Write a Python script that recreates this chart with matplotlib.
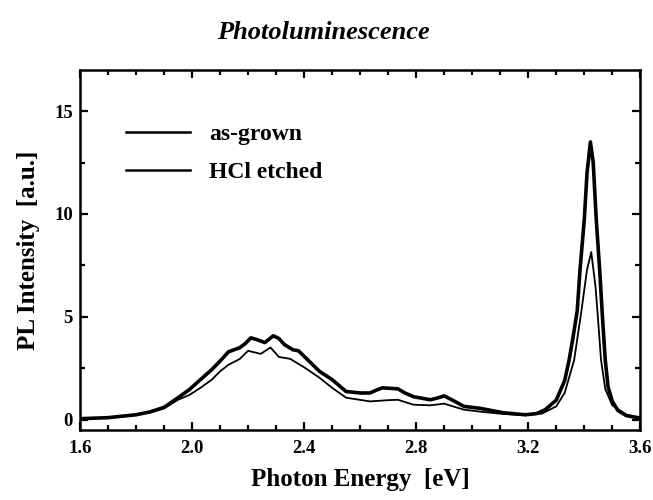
import matplotlib
matplotlib.use("Agg")
import matplotlib.pyplot as plt
from matplotlib.ticker import MultipleLocator

# Data
energy_grown = [1.60, 1.70, 1.80, 1.85, 1.90, 1.95, 1.99, 2.03, 2.07, 2.10, 2.13, 2.17, 2.19,
                2.21, 2.23, 2.26, 2.29, 2.31, 2.33, 2.36, 2.38, 2.41, 2.455, 2.50, 2.55, 2.60,
                2.635, 2.66, 2.68, 2.735, 2.76, 2.79, 2.85, 2.875, 2.90, 2.93, 2.97, 3.03, 3.11,
                3.19, 3.23, 3.26, 3.30, 3.33, 3.346, 3.36, 3.375, 3.385, 3.40, 3.41, 3.422,
                3.432, 3.443, 3.455, 3.465, 3.475, 3.485, 3.50, 3.52, 3.55, 3.60]
pl_grown = [0.05, 0.10, 0.24, 0.38, 0.60, 1.07, 1.46, 1.95, 2.43, 2.85, 3.30, 3.50, 3.70,
            3.98, 3.90, 3.75, 4.08, 3.95, 3.65, 3.40, 3.35, 2.95, 2.35, 1.95, 1.37, 1.30,
            1.30, 1.45, 1.55, 1.50, 1.30, 1.12, 0.97, 1.05, 1.16, 0.95, 0.65, 0.55, 0.34,
            0.24, 0.30, 0.48, 0.95, 1.90, 2.90, 4.00, 5.30, 7.30, 9.70, 12.0, 13.5,
            12.5, 9.70, 7.30, 5.00, 2.90, 1.60, 0.90, 0.45, 0.20, 0.08]

energy_hcl = [1.60, 1.70, 1.80, 1.85, 1.90, 1.95, 1.99, 2.03, 2.07, 2.10, 2.13, 2.17, 2.20,
              2.245, 2.28, 2.31, 2.35, 2.40, 2.455, 2.50, 2.55, 2.635, 2.70, 2.735, 2.79,
              2.85, 2.90, 2.97, 3.03, 3.11, 3.19, 3.25, 3.30, 3.33, 3.364, 3.39, 3.41,
              3.425, 3.44, 3.447, 3.46, 3.475, 3.50, 3.55, 3.60]
pl_hcl = [0.05, 0.10, 0.24, 0.35, 0.55, 0.97, 1.20, 1.55, 1.94, 2.35, 2.67, 2.95, 3.35,
          3.20, 3.51, 3.05, 2.96, 2.55, 2.04, 1.55, 1.07, 0.89, 0.95, 0.97, 0.73,
          0.70, 0.78, 0.49, 0.39, 0.28, 0.22, 0.30, 0.65, 1.30, 2.90, 5.30, 7.30,
          8.15, 6.50, 5.30, 2.90, 1.50, 0.70, 0.25, 0.08]

series_labels = ["as-grown", "HCl etched"]
x_ticks = [1.6, 2.0, 2.4, 2.8, 3.2, 3.6]
x_tick_labels = ["1.6", "2.0", "2.4", "2.8", "3.2", "3.6"]
y_ticks = [0, 5, 10, 15]

plt.rcParams['font.family'] = ['Liberation Serif', 'DejaVu Serif']
plt.rcParams['font.weight'] = 'bold'

fig = plt.figure(figsize=(6.53, 5.00), dpi=100)
ax = fig.add_axes([0.1225, 0.14, 0.858, 0.72])

ax.plot(energy_grown, pl_grown, color='black', lw=2.6, label=series_labels[0])
ax.plot(energy_hcl, pl_hcl, color='black', lw=1.3, label=series_labels[1])

ax.set_xlim(1.6, 3.6)
ax.set_ylim(-0.5, 17)
ax.set_xticks(x_ticks)
ax.set_xticklabels(x_tick_labels)
ax.set_yticks(y_ticks)
ax.xaxis.set_minor_locator(MultipleLocator(0.1))
ax.yaxis.set_minor_locator(MultipleLocator(2.5))
ax.tick_params(which='both', direction='in', top=True, right=True, width=1.6)
ax.tick_params(which='major', length=6, labelsize=13.5)
ax.tick_params(axis='x', which='major', pad=7)
ax.tick_params(axis='y', which='major', pad=5)
ax.tick_params(which='minor', length=3.5)
for lab in ax.get_xticklabels() + ax.get_yticklabels():
    lab.set_fontweight('bold')
for s in ax.spines.values():
    s.set_linewidth(1.8)

ax.set_xlabel("Photon Energy  [eV]", fontsize=18, fontweight='bold', labelpad=8)
ax.set_ylabel("PL Intensity  [a.u.]", fontsize=18, fontweight='bold', labelpad=10)
fig.text(0.495, 0.935, "Photoluminescence", ha='center', va='center',
         fontsize=19, fontweight='bold', style='italic')

leg = ax.legend(loc='upper left', bbox_to_anchor=(0.045, 0.91), frameon=False,
                handlelength=2.7, handletextpad=0.8, labelspacing=0.7,
                prop={'weight': 'bold', 'size': 17})
for h in leg.get_lines():
    h.set_linewidth(1.8)

fig.savefig("out.png", dpi=100)
